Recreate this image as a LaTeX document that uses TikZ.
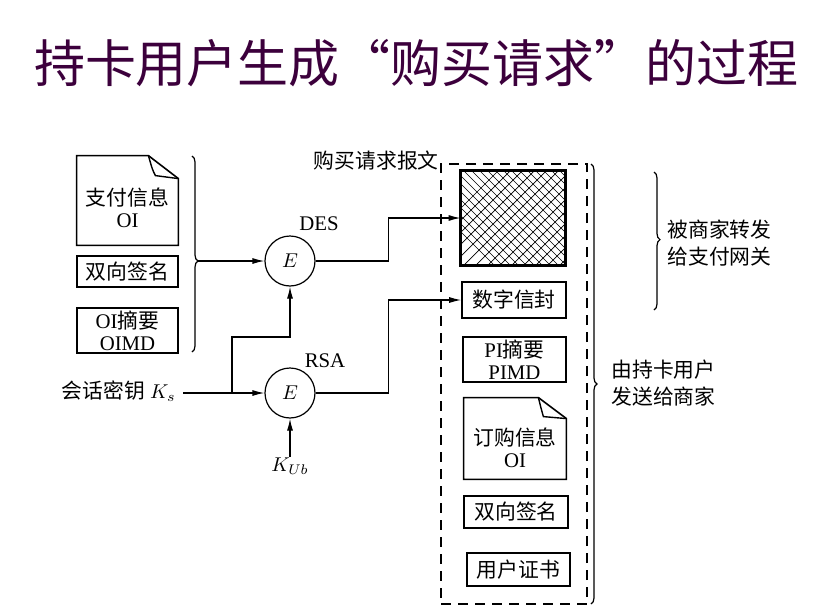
\documentclass[tikz,border=0pt]{standalone}
\usepackage{fontspec}
\setmainfont{Liberation Serif}
\newfontfamily\cjk{Noto Sans CJK SC}
\usetikzlibrary{arrows.meta,decorations.pathreplacing}
\newcommand\zh[1]{{\cjk #1}}
\definecolor{titlecol}{RGB}{60,0,60}
\begin{document}
\begin{tikzpicture}[x=0.5pt,y=-0.5pt,
  font=\fontsize{10.4}{11}\selectfont,
  box/.style={draw, line width=0.8pt, inner sep=0pt, align=center},
  plain/.style={inner sep=0pt, align=center},
  arr/.style={line width=0.6pt, -{Latex[length=6pt,width=3pt]}},
  enc/.style={circle, draw, line width=0.6pt, minimum size=25pt, inner sep=0pt},
  brc/.style={decorate, decoration={brace, amplitude=3pt, aspect=#1}, line width=0.6pt},
  brc/.default=0.5,
  hl/.style={line width=0.35pt},
  dbox/.style={draw, line width=0.6pt, dash pattern=on 5pt off 3.5pt, inner sep=0pt},
  rlabel/.style={anchor=west, align=left, inner sep=0pt, font=\fontsize{10.4}{13.5}\selectfont\cjk}]
\useasboundingbox (0,0) rectangle (837,611);

% title
\node[plain, text=titlecol, font=\fontsize{25.5}{28}\selectfont\cjk] (title) at (416.5,63) {持卡用户生成“购买请求”的过程};

% left column
\node[plain, minimum width=50.5pt, minimum height=44.5pt] (pay) at (127.5,200.5) {};
\draw[line width=0.8pt] (pay.north west) -- ([xshift=-15pt]pay.north east) -- ([yshift=-11.5pt]pay.north east) -- (pay.south east) -- (pay.south west) -- cycle;
\draw[line width=0.7pt] ([xshift=-15pt]pay.north east) .. controls ([xshift=-13pt,yshift=-7pt]pay.north east) .. ([xshift=-11.5pt,yshift=-10pt]pay.north east) -- ([yshift=-11.5pt]pay.north east);
\node[plain] (paytxt) at ([yshift=-3.5pt]pay.center) {\zh{支付信息}\\OI};

\node[box, minimum width=50.5pt, minimum height=15.5pt] (sig1) at (127.5,271.5) {\zh{双向签名}};
\node[box, minimum width=50.5pt, minimum height=22.5pt] (oimd) at (127.5,330.5) {OI\zh{摘要}\\OIMD};

\draw[brc=0.536] (192,156) -- (192,352);
\coordinate (lbt) at (198,261);

% encryption units
\node[enc] (des) at (290,261) {$E$};
\node[plain] (deslbl) at (319,224) {DES};
\node[enc] (rsa) at (290,393) {$E$};
\node[plain] (rsalbl) at (325,361) {RSA};

\node[anchor=east, inner sep=0pt] (ks) at (176,391) {\zh{会话密钥} $K_s$};
\node[plain] (kub) at (290,466) {$K_{Ub}$};

\draw[arr] (lbt) -- (des.west);
\draw[arr] ([xshift=3.5pt]ks.east |- rsa.west) -- (rsa.west);
\coordinate (br) at (232,393);
\draw[arr] (br) -- ++(0,-56) -| (des.south);
\draw[arr] (kub.north) -- (rsa.south);

% message box
\node[dbox, minimum width=73pt, minimum height=220pt] (msg) at (514,384) {};
\node[anchor=east, inner sep=1pt, font=\fontsize{10.4}{11}\selectfont\cjk] (msglbl) at (441,161) {购买请求报文};

\node[plain, minimum width=52pt, minimum height=47pt] (hatch) at (513,218) {};
\begin{scope}
  \clip (hatch.south west) rectangle (hatch.north east);
  \foreach \i in {-136,-128,...,136} {
    \draw[hl] (hatch.center) ++(\i,-70) -- ++(140,140);
  }
  \foreach \i in {-132,-120,...,132} {
    \draw[hl] (hatch.center) ++(\i,70) -- ++(140,-140);
  }
\end{scope}
\draw[line width=1.5pt] (hatch.south west) rectangle (hatch.north east);

\node[box, minimum width=52pt, minimum height=18pt] (env) at (514,300) {\zh{数字信封}};
\node[box, minimum width=51.5pt, minimum height=22.5pt] (pimd) at (514.5,359.5) {PI\zh{摘要}\\PIMD};

\node[plain, minimum width=51pt, minimum height=40.5pt] (ord) at (515,438.5) {};
\draw[line width=0.8pt] (ord.north west) -- ([xshift=-14pt]ord.north east) -- ([yshift=-10.5pt]ord.north east) -- (ord.south east) -- (ord.south west) -- cycle;
\draw[line width=0.7pt] ([xshift=-14pt]ord.north east) .. controls ([xshift=-12.5pt,yshift=-6pt]ord.north east) .. ([xshift=-11.5pt,yshift=-9.5pt]ord.north east) -- ([yshift=-10.5pt]ord.north east);
\node[plain] (ordtxt) at ([yshift=-4.5pt]ord.center) {\zh{订购信息}\\OI};

\node[box, minimum width=52pt, minimum height=16pt] (sig2) at (516,512) {\zh{双向签名}};
\node[box, minimum width=51.5pt, minimum height=16.5pt] (cert) at (518.5,569.5) {\zh{用户证书}};

\draw[arr] (des.east) -- ++(73,0) |- (hatch.west);
\draw[arr] (rsa.east) -- ++(73,0) |- (env.west);

% right braces
\draw[brc=0.5] (591,164) -- (591,604);
\draw[brc=0.49] (654,172) -- (654,310);
\node[rlabel] (fwd) at (667,243.5) {被商家转发\\给支付网关};
\node[rlabel] (send) at (611,383.5) {由持卡用户\\发送给商家};
\end{tikzpicture}
\end{document}
